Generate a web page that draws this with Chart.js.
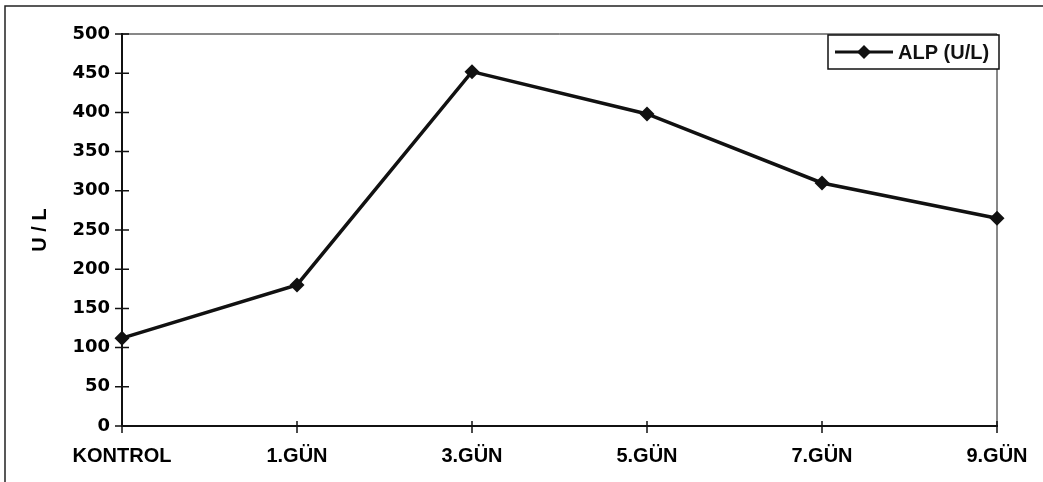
<!DOCTYPE html>
<html>
<head>
<meta charset="utf-8">
<script src="https://cdn.jsdelivr.net/npm/chart.js@4.4.1/dist/chart.umd.min.js"></script>
<style>
  body { margin: 0; background: #fff; }
  #wrap { width: 1043px; height: 482px; position: relative; }
</style>
</head>
<body>
<div id="wrap"><canvas id="alp-chart"></canvas></div>
<script>
// Data
const gunler = ["KONTROL", "1.GÜN", "3.GÜN", "5.GÜN", "7.GÜN", "9.GÜN"];
const alpDegerleri = [112, 180, 452, 398, 310, 265];
const seriAdi = "ALP (U/L)";
const eksenBasligi = "U / L";
const yMin = 0;
const yMax = 500;
const yAdim = 50;

const tickFont = { family: "'DejaVu Sans', sans-serif", weight: "bold", size: 18 };
const labelFont = { family: "'Liberation Sans', Arial, sans-serif", weight: "bold", size: 20 };

// Cerceve, arti seklindeki tikler ve lejant
const excelStyle = {
  id: "excelStyle",
  beforeDraw(chart) {
    const ctx = chart.ctx;
    ctx.save();
    ctx.strokeStyle = "#222";
    ctx.lineWidth = 1.5;
    ctx.beginPath();
    ctx.moveTo(5, chart.height);
    ctx.lineTo(5, 6);
    ctx.lineTo(chart.width, 6);
    ctx.stroke();
    ctx.restore();
  },
  afterDraw(chart) {
    const ctx = chart.ctx;
    const area = chart.chartArea;
    const xs = chart.scales.x;
    const ys = chart.scales.y;
    ctx.save();
    // ust ve sag cerceve
    ctx.strokeStyle = "#111";
    ctx.lineWidth = 1;
    ctx.beginPath();
    ctx.moveTo(area.left, area.top);
    ctx.lineTo(area.right, area.top);
    ctx.lineTo(area.right, area.bottom);
    ctx.stroke();

    // tikler
    ctx.lineWidth = 1.5;
    ctx.beginPath();
    ys.ticks.forEach((t) => {
      const y = ys.getPixelForValue(t.value);
      ctx.moveTo(area.left - 7, y);
      ctx.lineTo(area.left + 7, y);
    });
    xs.ticks.forEach((t, i) => {
      const x = xs.getPixelForTick(i);
      ctx.moveTo(x, area.bottom - 5);
      ctx.lineTo(x, area.bottom + 7);
    });
    ctx.stroke();

    // lejant
    const ds = chart.data.datasets[0];
    const boxW = 171, boxH = 34;
    const bx = area.right + 2 - boxW;
    const by = area.top + 1;
    ctx.fillStyle = "#fff";
    ctx.fillRect(bx, by, boxW, boxH);
    ctx.strokeStyle = "#111";
    ctx.lineWidth = 1.5;
    ctx.strokeRect(bx, by, boxW, boxH);
    const cy = by + boxH / 2;
    ctx.lineWidth = 3;
    ctx.beginPath();
    ctx.moveTo(bx + 7, cy);
    ctx.lineTo(bx + 65, cy);
    ctx.stroke();
    ctx.fillStyle = "#111";
    ctx.beginPath();
    ctx.moveTo(bx + 36, cy - 7);
    ctx.lineTo(bx + 43, cy);
    ctx.lineTo(bx + 36, cy + 7);
    ctx.lineTo(bx + 29, cy);
    ctx.closePath();
    ctx.fill();
    ctx.font = "bold 20px 'Liberation Sans', Arial, sans-serif";
    ctx.textBaseline = "middle";
    ctx.textAlign = "left";
    ctx.fillText(ds.label, bx + 70, cy + 1);
    ctx.restore();
  },
};

const ctx = document.getElementById("alp-chart").getContext("2d");
new Chart(ctx, {
  type: "line",
  data: {
    labels: gunler,
    datasets: [
      {
        label: seriAdi,
        data: alpDegerleri,
        borderColor: "#111",
        backgroundColor: "#111",
        borderWidth: 3.5,
        pointStyle: "rectRot",
        pointRadius: 7.5,
        pointBackgroundColor: "#111",
        pointBorderWidth: 0,
        tension: 0,
        clip: false,
      },
    ],
  },
  options: {
    responsive: true,
    maintainAspectRatio: false,
    animation: false,
    layout: { padding: { top: 34, right: 46, bottom: 0, left: 0 } },
    plugins: {
      legend: { display: false },
      tooltip: { enabled: false },
    },
    scales: {
      x: {
        type: "category",
        offset: false,
        grid: { display: false },
        border: { display: true, color: "#111", width: 2 },
        ticks: {
          color: "#000",
          font: labelFont,
          padding: 10,
          maxRotation: 0,
          autoSkip: false,
        },
        afterFit(scale) {
          scale.height = 56;
        },
      },
      y: {
        min: yMin,
        max: yMax,
        grid: { display: false },
        border: { display: true, color: "#111", width: 2 },
        ticks: {
          stepSize: yAdim,
          color: "#000",
          font: tickFont,
          padding: 4,
        },
        title: {
          display: true,
          text: eksenBasligi,
          color: "#000",
          font: labelFont,
          padding: { top: 28, bottom: 0 },
        },
        afterFit(scale) {
          scale.width = 122;
        },
      },
    },
  },
  plugins: [excelStyle],
});
</script>
</body>
</html>
